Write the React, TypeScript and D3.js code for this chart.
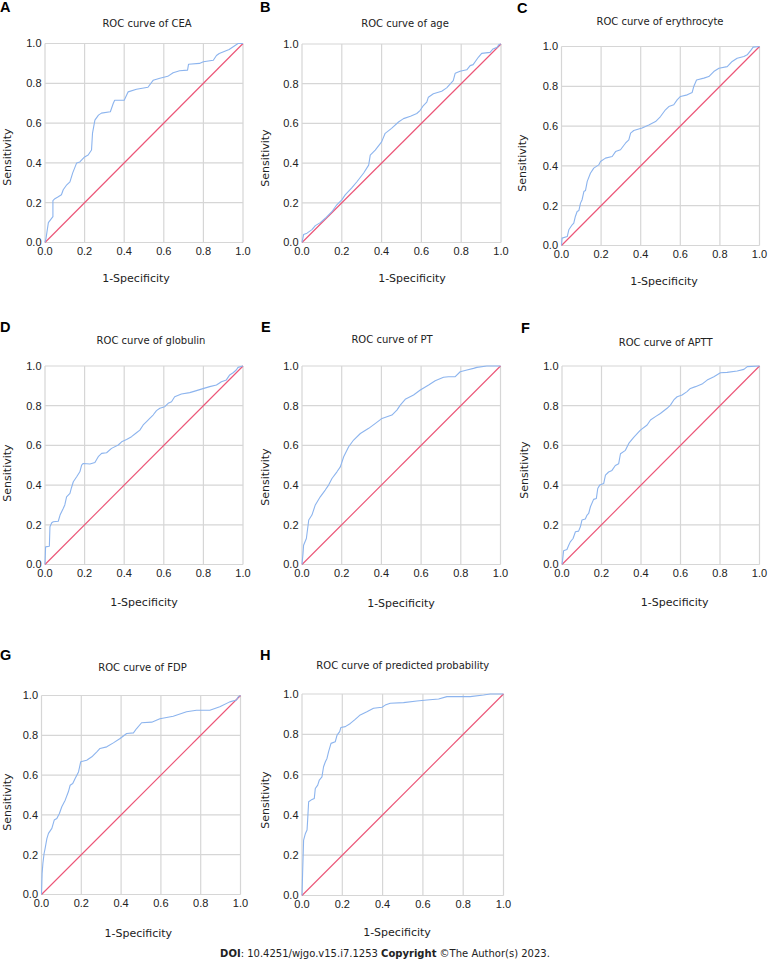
import React from "react";
import * as d3 from "d3";

// ---- data (1-Specificity, Sensitivity) ----
const cea: [number, number][] = [
  [0, 0], [0.005, 0.02], [0.017, 0.1], [0.04, 0.13], [0.04, 0.21], [0.05, 0.22], [0.067, 0.23], [0.083, 0.24],
  [0.092, 0.265], [0.11, 0.29], [0.126, 0.305], [0.14, 0.35], [0.16, 0.4], [0.176, 0.405], [0.2, 0.43],
  [0.218, 0.44], [0.235, 0.465], [0.24, 0.55], [0.252, 0.615], [0.27, 0.64], [0.285, 0.65], [0.33, 0.657],
  [0.345, 0.7], [0.352, 0.715], [0.4, 0.715], [0.42, 0.757], [0.462, 0.77], [0.52, 0.78], [0.546, 0.815],
  [0.58, 0.825], [0.62, 0.835], [0.647, 0.853], [0.68, 0.863], [0.72, 0.866], [0.725, 0.896], [0.78, 0.9],
  [0.8, 0.908], [0.85, 0.916], [0.866, 0.94], [0.88, 0.95], [0.93, 0.97], [0.96, 0.99], [0.975, 1], [1, 1],
];
const age: [number, number][] = [
  [0, 0], [0.008, 0.04], [0.025, 0.047], [0.05, 0.065], [0.067, 0.085], [0.092, 0.1], [0.117, 0.122],
  [0.15, 0.155], [0.175, 0.19], [0.2, 0.215], [0.217, 0.24], [0.25, 0.275], [0.276, 0.306], [0.31, 0.35],
  [0.335, 0.39], [0.343, 0.44], [0.368, 0.465], [0.4, 0.507], [0.418, 0.55], [0.45, 0.575], [0.485, 0.607],
  [0.51, 0.624], [0.545, 0.636], [0.577, 0.65], [0.594, 0.666], [0.61, 0.69], [0.627, 0.707], [0.635, 0.732],
  [0.66, 0.749], [0.702, 0.762], [0.727, 0.779], [0.76, 0.816], [0.77, 0.853], [0.794, 0.863], [0.828, 0.87],
  [0.845, 0.891], [0.86, 0.896], [0.886, 0.933], [0.903, 0.953], [0.945, 0.958], [0.96, 0.975], [0.98, 0.983],
  [0.99, 0.997], [1, 1],
];
const erythrocyte: [number, number][] = [
  [0, 0], [0.003, 0.037], [0.029, 0.045], [0.037, 0.079], [0.054, 0.104], [0.062, 0.112], [0.07, 0.146],
  [0.079, 0.171], [0.088, 0.176], [0.096, 0.213], [0.104, 0.23], [0.113, 0.271], [0.121, 0.276], [0.13, 0.322],
  [0.146, 0.363], [0.163, 0.389], [0.188, 0.405], [0.197, 0.422], [0.222, 0.439], [0.256, 0.447], [0.273, 0.472],
  [0.298, 0.481], [0.323, 0.514], [0.34, 0.531], [0.349, 0.565], [0.365, 0.578], [0.407, 0.59], [0.441, 0.606],
  [0.475, 0.623], [0.5, 0.648], [0.525, 0.682], [0.542, 0.698], [0.567, 0.707], [0.584, 0.732], [0.601, 0.749],
  [0.635, 0.757], [0.66, 0.769], [0.668, 0.799], [0.682, 0.832], [0.719, 0.841], [0.744, 0.849], [0.769, 0.874],
  [0.795, 0.891], [0.837, 0.899], [0.862, 0.925], [0.887, 0.941], [0.921, 0.95], [0.938, 0.958], [0.958, 0.983],
  [0.968, 0.997], [1, 1],
];
const globulin: [number, number][] = [
  [0, 0], [0.003, 0.089], [0.022, 0.092], [0.025, 0.19], [0.034, 0.21], [0.042, 0.215], [0.067, 0.218],
  [0.076, 0.249], [0.092, 0.282], [0.1, 0.3], [0.109, 0.341], [0.126, 0.358], [0.134, 0.388], [0.143, 0.417],
  [0.16, 0.442], [0.176, 0.467], [0.185, 0.501], [0.193, 0.509], [0.227, 0.506], [0.252, 0.514], [0.269, 0.543],
  [0.286, 0.56], [0.311, 0.563], [0.336, 0.585], [0.37, 0.602], [0.387, 0.618], [0.412, 0.63], [0.437, 0.644],
  [0.462, 0.664], [0.479, 0.677], [0.496, 0.703], [0.513, 0.72], [0.529, 0.736], [0.546, 0.753], [0.563, 0.775],
  [0.58, 0.787], [0.605, 0.795], [0.622, 0.812], [0.639, 0.82], [0.655, 0.845], [0.689, 0.859], [0.731, 0.866],
  [0.765, 0.876], [0.798, 0.886], [0.832, 0.896], [0.866, 0.904], [0.891, 0.921], [0.916, 0.93], [0.933, 0.955],
  [0.95, 0.966], [0.966, 0.98], [0.975, 0.993], [1, 1],
];
const pt: [number, number][] = [
  [0, 0], [0.005, 0.055], [0.008, 0.097], [0.022, 0.131], [0.034, 0.224], [0.05, 0.249], [0.067, 0.3],
  [0.092, 0.341], [0.117, 0.375], [0.134, 0.4], [0.151, 0.433], [0.176, 0.467], [0.193, 0.492], [0.21, 0.543],
  [0.235, 0.593], [0.26, 0.627], [0.294, 0.66], [0.336, 0.686], [0.37, 0.711], [0.403, 0.736], [0.453, 0.753],
  [0.478, 0.778], [0.495, 0.803], [0.52, 0.832], [0.562, 0.854], [0.596, 0.879], [0.638, 0.904], [0.671, 0.926],
  [0.713, 0.943], [0.738, 0.946], [0.772, 0.946], [0.797, 0.971], [0.831, 0.98], [0.864, 0.988], [0.881, 0.993],
  [0.931, 1], [1, 1],
];
const aptt: [number, number][] = [
  [0, 0], [0.003, 0.022], [0.008, 0.069], [0.025, 0.076], [0.034, 0.097], [0.042, 0.114], [0.056, 0.131],
  [0.068, 0.165], [0.084, 0.168], [0.093, 0.19], [0.101, 0.224], [0.118, 0.229], [0.127, 0.249], [0.135, 0.257],
  [0.144, 0.291], [0.16, 0.328], [0.174, 0.333], [0.181, 0.383], [0.191, 0.4], [0.211, 0.408], [0.22, 0.45],
  [0.236, 0.466], [0.253, 0.474], [0.27, 0.499], [0.287, 0.508], [0.296, 0.558], [0.321, 0.575], [0.338, 0.61],
  [0.363, 0.64], [0.397, 0.677], [0.431, 0.703], [0.448, 0.728], [0.473, 0.745], [0.498, 0.761], [0.532, 0.787],
  [0.549, 0.803], [0.566, 0.829], [0.583, 0.845], [0.608, 0.854], [0.633, 0.871], [0.65, 0.887], [0.676, 0.896],
  [0.709, 0.909], [0.735, 0.929], [0.769, 0.946], [0.802, 0.966], [0.836, 0.968], [0.887, 0.975], [0.921, 0.983],
  [0.938, 0.997], [1, 1],
];
const fdp: [number, number][] = [
  [0, 0], [0.003, 0.106], [0.007, 0.156], [0.013, 0.206], [0.018, 0.231], [0.027, 0.281], [0.035, 0.307],
  [0.052, 0.332], [0.064, 0.374], [0.077, 0.382], [0.09, 0.407], [0.102, 0.441], [0.119, 0.474], [0.135, 0.516],
  [0.144, 0.549], [0.157, 0.558], [0.169, 0.583], [0.186, 0.616], [0.197, 0.667], [0.227, 0.675], [0.253, 0.692],
  [0.278, 0.717], [0.294, 0.734], [0.328, 0.742], [0.361, 0.762], [0.395, 0.784], [0.428, 0.809], [0.462, 0.812],
  [0.478, 0.834], [0.503, 0.863], [0.554, 0.866], [0.595, 0.883], [0.662, 0.896], [0.729, 0.918], [0.779, 0.926],
  [0.846, 0.926], [0.896, 0.943], [0.946, 0.968], [0.98, 0.977], [0.988, 0.993], [1, 1],
];
const predicted: [number, number][] = [
  [0, 0], [0.003, 0.109], [0.008, 0.275], [0.017, 0.308], [0.025, 0.325], [0.028, 0.374], [0.033, 0.465],
  [0.05, 0.477], [0.061, 0.482], [0.066, 0.531], [0.078, 0.548], [0.086, 0.573], [0.099, 0.589], [0.107, 0.639],
  [0.116, 0.664], [0.124, 0.68], [0.132, 0.714], [0.144, 0.755], [0.165, 0.763], [0.174, 0.796], [0.187, 0.813],
  [0.193, 0.834], [0.215, 0.838], [0.24, 0.854], [0.264, 0.874], [0.289, 0.896], [0.322, 0.912], [0.355, 0.929],
  [0.397, 0.934], [0.413, 0.945], [0.438, 0.954], [0.504, 0.957], [0.57, 0.965], [0.62, 0.97], [0.678, 0.975],
  [0.719, 0.987], [0.835, 0.987], [0.901, 0.995], [0.934, 1], [1, 1],
];

const panelLetters = ["A", "B", "C", "D", "E", "F", "G", "H"];
const panelTitles = [
  "ROC curve of CEA",
  "ROC curve of age",
  "ROC curve of erythrocyte",
  "ROC curve of globulin",
  "ROC curve of PT",
  "ROC curve of APTT",
  "ROC curve of FDP",
  "ROC curve of predicted probability",
];
const panelSeries = [cea, age, erythrocyte, globulin, pt, aptt, fdp, predicted];
const referenceLine: [number, number][] = [[0, 0], [1, 1]];
const tickValues = [0, 0.2, 0.4, 0.6, 0.8, 1.0];
const xAxisLabel = "1-Specificity";
const yAxisLabel = "Sensitivity";

// ---- layout (pixel geometry of each panel) ----
type Layout = {
  x0: number; x1: number; top: number; bottom: number;
  lx: number; ly: number; tx: number; ty: number; xlx: number; xly: number; ylx: number; yly: number;
};
const layouts: Layout[] = [
  { x0: 45, x1: 243, top: 43.5, bottom: 242.5, lx: 0, ly: 12, tx: 147, ty: 23, xlx: 136, xly: 278, ylx: 7.5, yly: 157 },
  { x0: 302, x1: 501, top: 44, bottom: 242.5, lx: 260, ly: 12, tx: 405, ty: 23.3, xlx: 412, xly: 278.3, ylx: 265, yly: 158 },
  { x0: 561.5, x1: 759.5, top: 46.5, bottom: 245.5, lx: 517, ly: 13.3, tx: 660, ty: 21.7, xlx: 664, xly: 281, ylx: 522, yly: 163 },
  { x0: 45, x1: 243, top: 366, bottom: 564.5, lx: 0, ly: 331.7, tx: 151, ty: 340.7, xlx: 144, xly: 601.7, ylx: 7, yly: 473 },
  { x0: 302, x1: 500.5, top: 366, bottom: 564.5, lx: 261, ly: 331.7, tx: 392, ty: 339.3, xlx: 401, xly: 603, ylx: 265, yly: 477 },
  { x0: 562, x1: 759.5, top: 366, bottom: 564.5, lx: 521, ly: 332.7, tx: 665.7, ty: 342.7, xlx: 674.7, xly: 601.7, ylx: 524, yly: 470 },
  { x0: 41.5, x1: 240.5, top: 695.5, bottom: 894.5, lx: 0, ly: 660, tx: 142.5, ty: 667.7, xlx: 138.3, xly: 933.3, ylx: 7, yly: 802 },
  { x0: 302, x1: 503.5, top: 694, bottom: 895.5, lx: 260, ly: 660, tx: 402.8, ty: 665.7, xlx: 397, xly: 932.3, ylx: 265, yly: 800 },
];

const GRID = "#d6d6d6";
const CURVE = "#8cb4ee";
const DIAG = "#ec5577";
const LABEL_FONT = "'DejaVu Sans', Verdana, sans-serif";
const TICK_FONT = "'Liberation Sans', Arial, sans-serif";
const fmt = d3.format(".1f");

function Panel({ i }: { i: number }) {
  const L = layouts[i];
  const x = d3.scaleLinear().domain([0, 1]).range([L.x0, L.x1]);
  const y = d3.scaleLinear().domain([0, 1]).range([L.bottom, L.top]);
  const line = d3.line<[number, number]>().x((d) => x(d[0])).y((d) => y(d[1]));
  return (
    <g>
      <text x={L.lx} y={L.ly} fontFamily={TICK_FONT} fontWeight="bold" fontSize={14.5} fill="#000">
        {panelLetters[i]}
      </text>
      <text x={L.tx} y={L.ty} dy="0.35em" textAnchor="middle" fontFamily={LABEL_FONT} fontSize={10} fill="#222">
        {panelTitles[i]}
      </text>
      {tickValues.map((t) => (
        <line key={"gx" + t} x1={x(t)} x2={x(t)} y1={y(0)} y2={y(1)} stroke={GRID} strokeWidth={1.2} />
      ))}
      {tickValues.map((t) => (
        <line key={"gy" + t} x1={x(0)} x2={x(1)} y1={y(t)} y2={y(t)} stroke={GRID} strokeWidth={1.2} />
      ))}
      {tickValues.map((t) => (
        <text key={"ty" + t} x={x(0) - 3.5} y={y(t)} dy="0.36em" textAnchor="end" fontFamily={TICK_FONT} fontSize={11} fill="#222">
          {fmt(t)}
        </text>
      ))}
      {tickValues.map((t) => (
        <text key={"tx" + t} x={x(t)} y={y(0) + 12.5} textAnchor="middle" fontFamily={TICK_FONT} fontSize={11} fill="#222">
          {fmt(t)}
        </text>
      ))}
      <path d={line(referenceLine) || ""} fill="none" stroke={DIAG} strokeWidth={1.15} />
      <path d={line(panelSeries[i]) || ""} fill="none" stroke={CURVE} strokeWidth={1.1} strokeLinejoin="round" />
      <text x={L.xlx} y={L.xly} dy="0.35em" textAnchor="middle" fontFamily={LABEL_FONT} fontSize={11} fill="#222">
        {xAxisLabel}
      </text>
      <text
        transform={`translate(${L.ylx},${L.yly}) rotate(-90)`}
        dy="0.35em"
        textAnchor="middle"
        fontFamily={LABEL_FONT}
        fontSize={11}
        fill="#222"
      >
        {yAxisLabel}
      </text>
    </g>
  );
}

export default function App() {
  return (
    <svg
      width={771}
      height={964}
      viewBox="0 0 771 964"
      style={{ position: "absolute", left: 0, top: 0, background: "#fff" }}
    >
      <rect x={0} y={0} width={771} height={964} fill="#fff" />
      {panelTitles.map((_, i) => (
        <Panel key={i} i={i} />
      ))}
      <text x={385} y={957} textAnchor="middle" fontFamily={LABEL_FONT} fontSize={10} fill="#222">
        <tspan fontWeight="bold">DOI</tspan>
        <tspan>: 10.4251/wjgo.v15.i7.1253 </tspan>
        <tspan fontWeight="bold">Copyright</tspan>
        <tspan> ©The Author(s) 2023.</tspan>
      </text>
    </svg>
  );
}
